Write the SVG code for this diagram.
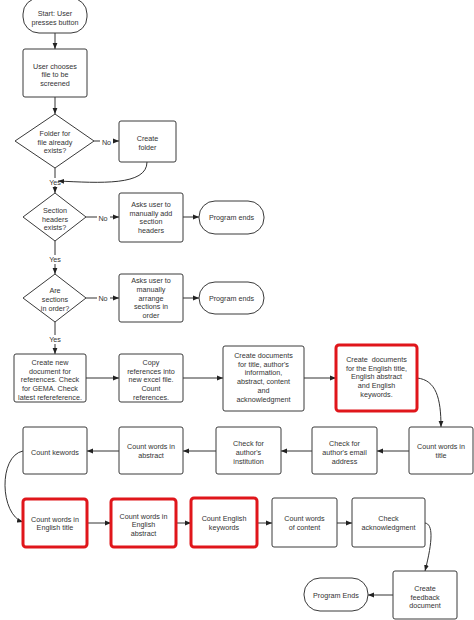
<svg xmlns="http://www.w3.org/2000/svg" width="474" height="620" viewBox="0 0 474 620">
<style>
.n{fill:#fff;stroke:#3a3a3a;stroke-width:1}
.r{fill:#fff;stroke:#e0161b;stroke-width:3}
.t{font-family:"Liberation Sans",Arial,sans-serif;font-size:7.2px;fill:#333;text-anchor:middle}
.c{fill:none;stroke:#333;stroke-width:1;marker-end:url(#a)}
.bg{fill:#fff}
</style>
<defs>
<marker id="a" viewBox="0 0 10 10" refX="10" refY="5" markerWidth="6" markerHeight="6" markerUnits="userSpaceOnUse" orient="auto">
<path d="M0,1 L10,5 L0,9 z" fill="#222"/>
</marker>
</defs>
<rect width="474" height="620" fill="#fff"/>
<g id="connectors">
<path class="c" d="M55,33 V49"/>
<path class="c" d="M55,97 V114"/>
<path class="c" d="M94,141 H119"/>
<path class="c" d="M55,168 V193"/>
<path class="c" d="M86,217 H119"/>
<path class="c" d="M183,217 H199"/>
<path class="c" d="M55,241 V274"/>
<path class="c" d="M86,298 H119"/>
<path class="c" d="M183,298 H199"/>
<path class="c" d="M55,322 V354"/>
<path class="c" d="M86,378 H119"/>
<path class="c" d="M183,378 H223"/>
<path class="c" d="M304,378 H336"/>
<path class="c" d="M417,378 C436,380 441,398 441,427"/>
<path class="c" d="M409,451 H377"/>
<path class="c" d="M312,451 H281"/>
<path class="c" d="M216,451 H183"/>
<path class="c" d="M119,451 H87"/>
<path class="c" d="M23,451 C-2,456 0,515 23,522"/>
<path class="c" d="M87,523 H111"/>
<path class="c" d="M176,523 H191"/>
<path class="c" d="M257,523 H272"/>
<path class="c" d="M337,523 H352"/>
<path class="c" d="M425,523 C433,524 433,540 425,571"/>
<path class="c" d="M393,595 H368"/>
<rect class="bg" x="100" y="137" width="13" height="9"/>
<text class="t" x="106.5" y="144.5">No</text>
<rect class="bg" x="49" y="178" width="12" height="8"/>
<text class="t" x="55" y="184.5">Yes</text>
<path class="c" d="M147,162 C147,186 100,183 58,181"/>
<rect class="bg" x="97" y="213" width="13" height="9"/>
<text class="t" x="103" y="220.5">No</text>
<rect class="bg" x="48" y="255" width="14" height="9"/>
<text class="t" x="55" y="261.6">Yes</text>
<rect class="bg" x="97" y="294" width="13" height="9"/>
<text class="t" x="103" y="301">No</text>
<rect class="bg" x="48" y="335" width="14" height="9"/>
<text class="t" x="55" y="341.6">Yes</text>
</g>
<g id="start"><rect class="n" x="23" y="-2" width="64" height="35" rx="16"/><text class="t" x="55" y="16">Start: User</text><text class="t" x="55" y="24.5">presses button</text></g>
<g id="choose"><rect class="n" x="23" y="49" width="64" height="48" rx="2"/><text class="t" x="55" y="68.5">User chooses</text><text class="t" x="55" y="77">file to be</text><text class="t" x="55" y="85.5">screened</text></g>
<g id="d1"><path class="n" d="M55,114 L94,141 L55,168 L15,141 Z"/><text class="t" x="55" y="136">Folder for</text><text class="t" x="55" y="144.6">file already</text><text class="t" x="55" y="153.3">exists?</text></g>
<g id="createfolder"><rect class="n" x="119" y="121" width="57" height="41" rx="2"/><text class="t" x="147.5" y="141">Create</text><text class="t" x="147.5" y="149.6">folder</text></g>
<g id="d2"><path class="n" d="M55,193 L86,217 L55,241 L23,217 Z"/><text class="t" x="55" y="213.3">Section</text><text class="t" x="55" y="221.6">headers</text><text class="t" x="55" y="230.3">exists?</text></g>
<g id="askadd"><rect class="n" x="119" y="193" width="64" height="49" rx="2"/><text class="t" x="151" y="207">Asks user to</text><text class="t" x="151" y="215.7">manually add</text><text class="t" x="151" y="224.4">section</text><text class="t" x="151" y="233.1">headers</text></g>
<g id="end1"><rect class="n" x="199" y="201" width="65" height="33" rx="16"/><text class="t" x="231.5" y="220.3">Program ends</text></g>
<g id="d3"><path class="n" d="M55,274 L86,298 L55,322 L23,298 Z"/><text class="t" x="55" y="293.3">Are</text><text class="t" x="55" y="302">sections</text><text class="t" x="55" y="310.6">in order?</text></g>
<g id="askarrange"><rect class="n" x="119" y="274" width="64" height="48" rx="2"/><text class="t" x="151" y="283.3">Asks user to</text><text class="t" x="151" y="292">manually</text><text class="t" x="151" y="300.7">arrange</text><text class="t" x="151" y="309.4">sections in</text><text class="t" x="151" y="318.1">order</text></g>
<g id="end2"><rect class="n" x="199" y="282" width="65" height="32" rx="16"/><text class="t" x="231.5" y="301">Program ends</text></g>
<g id="newdoc"><rect class="n" x="14" y="354" width="72" height="48" rx="2"/><text class="t" x="50" y="365">Create new</text><text class="t" x="50" y="373.6">document for</text><text class="t" x="50" y="382.3">references. Check</text><text class="t" x="50" y="391">for GEMA. Check</text><text class="t" x="50" y="399.7">latest refereference.</text></g>
<g id="copy"><rect class="n" x="119" y="354" width="64" height="48" rx="2"/><text class="t" x="151" y="365">Copy</text><text class="t" x="151" y="373.6">references into</text><text class="t" x="151" y="382.3">new excel file.</text><text class="t" x="151" y="391">Count</text><text class="t" x="151" y="399.7">references.</text></g>
<g id="createdocs"><rect class="n" x="223" y="346" width="81" height="65" rx="2"/><text class="t" x="263.5" y="357.6">Create documents</text><text class="t" x="263.5" y="366.6">for title, author's</text><text class="t" x="263.5" y="375.3">information,</text><text class="t" x="263.5" y="384.3">abstract, content</text><text class="t" x="263.5" y="392.9">and</text><text class="t" x="263.5" y="401.6">acknowledgment</text></g>
<g id="createeng"><rect class="r" x="336" y="345" width="81" height="66" rx="3"/><text class="t" x="376.5" y="361.9" xml:space="preserve">Create  documents</text><text class="t" x="376.5" y="370.9">for the English title,</text><text class="t" x="376.5" y="379.3">English abstract</text><text class="t" x="376.5" y="388.3">and English</text><text class="t" x="376.5" y="396.9">keywords.</text></g>
<g id="cwtitle"><rect class="n" x="409" y="427" width="64" height="47" rx="2"/><text class="t" x="441" y="449.3">Count words in</text><text class="t" x="441" y="457.9">title</text></g>
<g id="email"><rect class="n" x="312" y="427" width="65" height="47" rx="2"/><text class="t" x="344.5" y="445.9">Check for</text><text class="t" x="344.5" y="454.6">author's email</text><text class="t" x="344.5" y="463.6">address</text></g>
<g id="inst"><rect class="n" x="216" y="427" width="65" height="47" rx="2"/><text class="t" x="248.5" y="445.9">Check for</text><text class="t" x="248.5" y="454.6">author's</text><text class="t" x="248.5" y="463.6">institution</text></g>
<g id="cwabstract"><rect class="n" x="119" y="427" width="64" height="47" rx="2"/><text class="t" x="151" y="449.3">Count words in</text><text class="t" x="151" y="457.9">abstract</text></g>
<g id="ckw"><rect class="n" x="23" y="427" width="64" height="47" rx="2"/><text class="t" x="55" y="454.9">Count kewords</text></g>
<g id="cweng"><rect class="r" x="23" y="499" width="64" height="48" rx="3"/><text class="t" x="55" y="521.6">Count words in</text><text class="t" x="55" y="530.3">English title</text></g>
<g id="cwengabs"><rect class="r" x="111" y="499" width="65" height="48" rx="3"/><text class="t" x="143.5" y="518.6">Count words in</text><text class="t" x="143.5" y="527.3">English</text><text class="t" x="143.5" y="535.9">abstract</text></g>
<g id="cengkw"><rect class="r" x="191" y="498" width="66" height="49" rx="3"/><text class="t" x="224" y="521.3">Count English</text><text class="t" x="224" y="529.9">keywords</text></g>
<g id="content"><rect class="n" x="272" y="498" width="65" height="49" rx="2"/><text class="t" x="304.5" y="521.3">Count words</text><text class="t" x="304.5" y="529.9">of content</text></g>
<g id="ack"><rect class="n" x="352" y="498" width="73" height="49" rx="2"/><text class="t" x="388.5" y="521.3">Check</text><text class="t" x="388.5" y="529.9">acknowledgment</text></g>
<g id="feedback"><rect class="n" x="393" y="571" width="64" height="48" rx="2"/><text class="t" x="425" y="590.9">Create</text><text class="t" x="425" y="599.6">feedback</text><text class="t" x="425" y="608.3">document</text></g>
<g id="end3"><rect class="n" x="304" y="578" width="64" height="33" rx="16"/><text class="t" x="336" y="597.9">Program Ends</text></g>
</svg>
